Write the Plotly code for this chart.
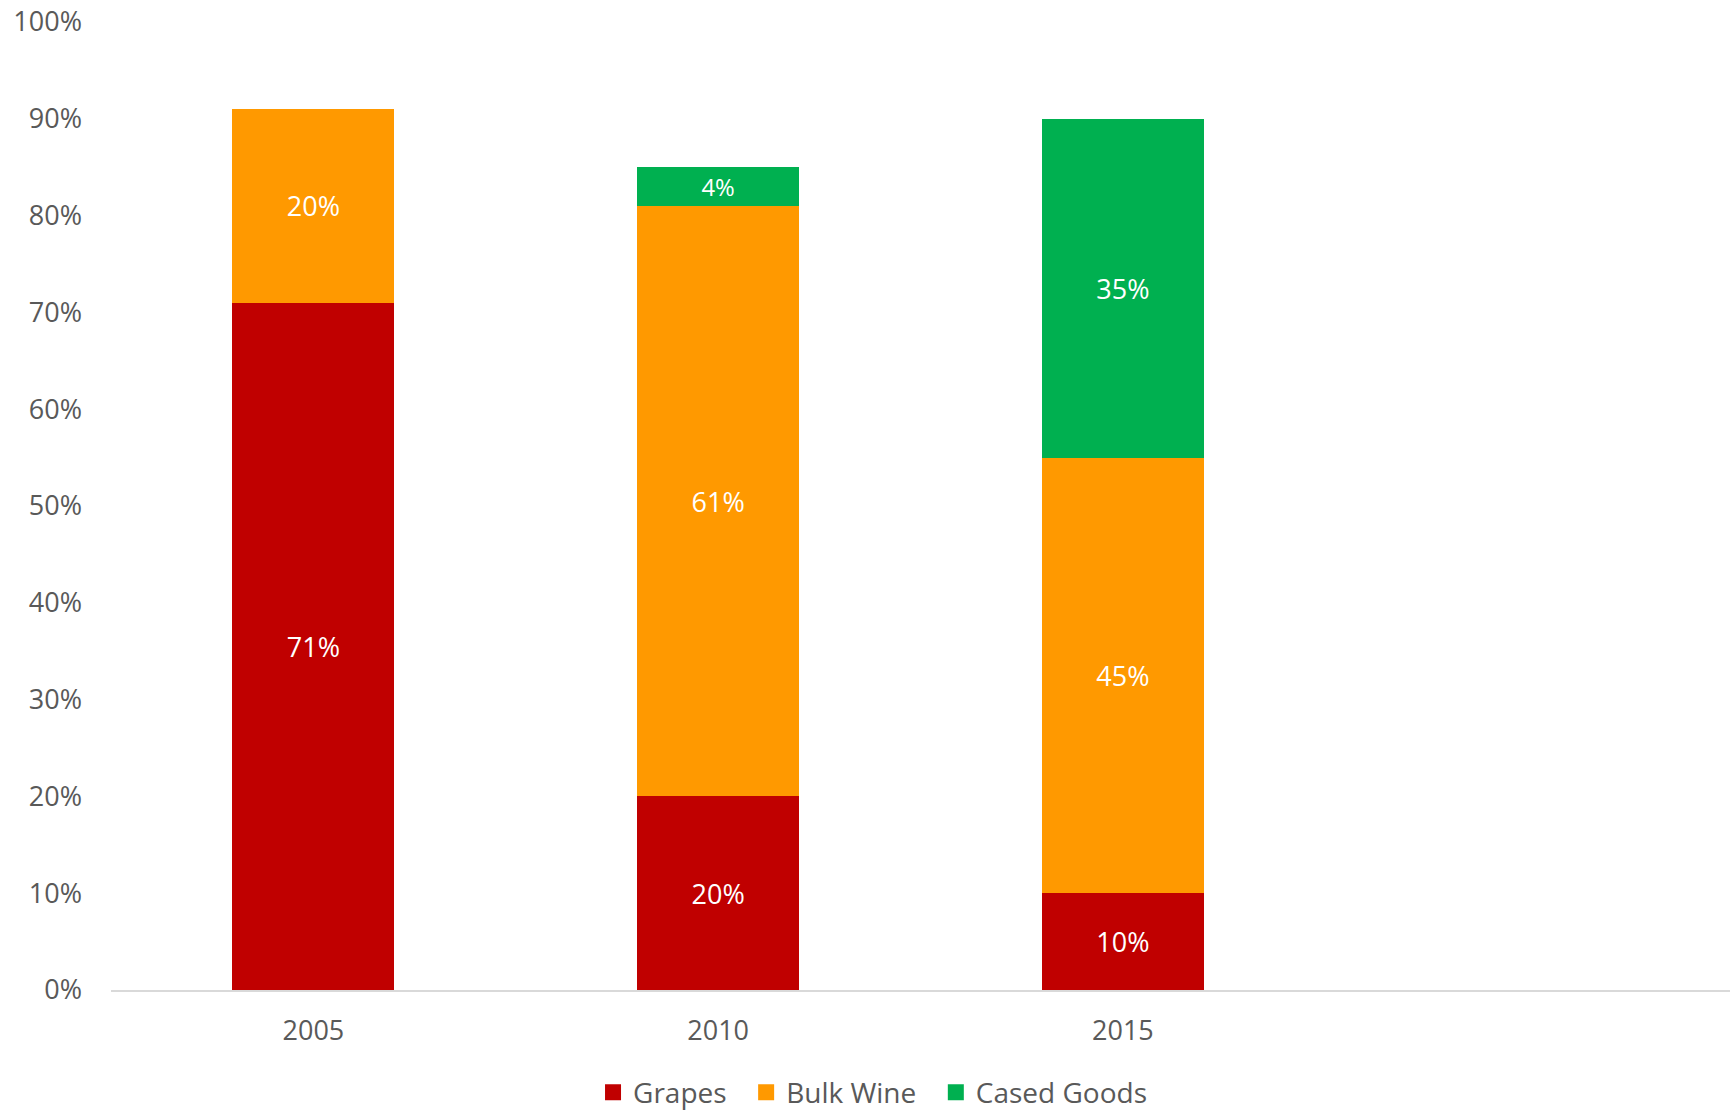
import plotly.graph_objects as go

years = ["2005", "2010", "2015", " "]
grapes = [0.71, 0.20, 0.10, None]
bulk_wine = [0.20, 0.61, 0.45, None]
cased_goods = [None, 0.04, 0.35, None]

series = [("Grapes", grapes, "#C00000"),
          ("Bulk Wine", bulk_wine, "#FF9900"),
          ("Cased Goods", cased_goods, "#00B050")]

FONT = "Open Sans"
fig = go.Figure()
for name, vals, col in series:
    fig.add_trace(go.Bar(
        x=years, y=vals, name=name, marker=dict(color=col, line=dict(width=0)),
        text=[f"{round(v*100)}%" if v else "" for v in vals],
        texttemplate="%{text}", textposition="inside", insidetextanchor="middle",
        textfont=dict(color="white", size=27, family=FONT),
        textangle=0, width=0.4, showlegend=False,
    ))
# legend entries with larger square markers
for name, vals, col in series:
    fig.add_trace(go.Scatter(
        x=[None], y=[None], mode="markers", name=name + "\u00a0\u00a0",
        marker=dict(symbol="square", size=17, color=col), showlegend=True,
    ))

fig.update_layout(
    barmode="stack",
    width=1732, height=1110,
    margin=dict(l=111, r=2, t=22, b=120, autoexpand=False),
    plot_bgcolor="white", paper_bgcolor="white",
    font=dict(family=FONT, size=27, color="#595959"),
    showlegend=True,
    legend=dict(orientation="h", x=0.475, xanchor="center", y=-0.106, yanchor="middle",
                font=dict(size=28, color="#595959"), traceorder="normal",
                itemwidth=30),
)
fig.update_xaxes(type="category", categoryarray=years, categoryorder="array",
                 showgrid=False, showline=True, linecolor="#D9D9D9", linewidth=2,
                 ticks="", ticklabelstandoff=16, range=[-0.5, 3.5])
fig.update_yaxes(range=[0, 1], tickformat=".0%", dtick=0.1, showgrid=False,
                 zeroline=False, showline=False, ticks="", ticklabelstandoff=28)

fig.write_html("out.html")
